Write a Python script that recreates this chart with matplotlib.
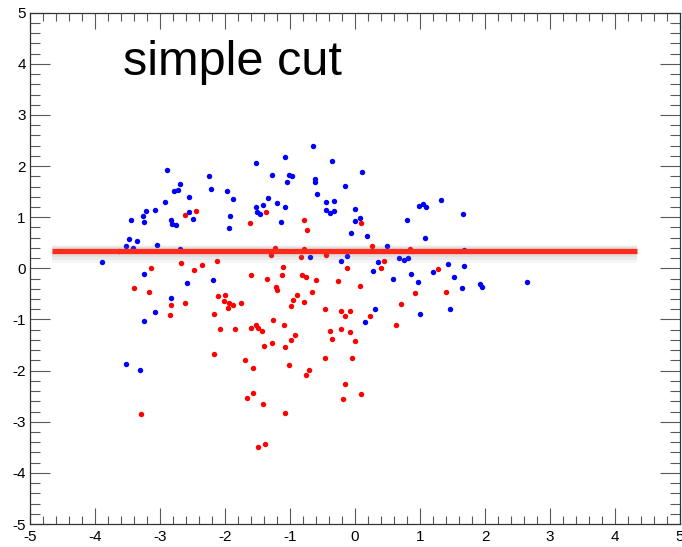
import matplotlib
matplotlib.use("Agg")
import matplotlib.pyplot as plt
import matplotlib.transforms as mtransforms
from matplotlib.ticker import MultipleLocator, AutoMinorLocator

plt.rcParams['font.family'] = ['Liberation Sans', 'DejaVu Sans']
plt.rcParams['axes.unicode_minus'] = False

# blue sample (signal-like)
blue_x = [-2.89, -2.24, -2.70, -2.78, -2.73, -2.22, -1.97, -2.55, -2.92, -3.08,
          -3.22, -3.26, -3.45, -3.24, -2.55, -2.49, -2.83, -2.82, -2.75, -1.93,
          -1.94, -3.48, -3.36, -3.53, -3.41, -3.05, -2.69, -0.64, -1.08, -0.35,
          -1.52, -1.27, -1.02, -0.97, 0.11, -1.04, -0.62, -0.62, -0.15, -0.59,
          -1.87, -1.34, -1.20, -1.42, -0.44, -0.33, -1.52, -1.07, -1.51, -1.46,
          -0.45, -0.33, -0.38, 0.00, -1.14, 0.08, 0.00, -0.06, 0.18, 1.32,
          0.99, 1.05, 1.09, 1.66, 0.80, 1.07, 0.49, 1.67, 0.36, 0.67,
          0.76, 0.82, 1.43, 1.67, 0.28, 1.20, 0.86, 0.59, 1.52, 0.97,
          1.92, 1.96, 2.65, 1.64, -3.90, -3.25, -2.58, -2.19, -2.83, -3.07,
          -3.24, -0.70, -0.12, -0.22, 0.16, 0.31, 1.00, 1.46, -3.52, -3.31]
blue_y = [1.93, 1.81, 1.65, 1.51, 1.53, 1.56, 1.51, 1.39, 1.30, 1.15,
          1.13, 1.02, 0.94, 0.90, 1.11, 0.96, 0.95, 0.86, 0.84, 1.02,
          0.79, 0.58, 0.53, 0.44, 0.40, 0.46, 0.38, 2.39, 2.18, 2.10,
          2.07, 1.82, 1.82, 1.81, 1.88, 1.69, 1.74, 1.68, 1.62, 1.45,
          1.35, 1.37, 1.28, 1.24, 1.30, 1.32, 1.20, 1.20, 1.11, 1.07,
          1.15, 1.13, 1.08, 1.16, 0.90, 0.98, 0.93, 0.70, 0.63, 1.34,
          1.21, 1.25, 1.20, 1.06, 0.94, 0.59, 0.44, 0.36, 0.13, 0.21,
          0.17, 0.20, 0.08, 0.04, -0.05, -0.08, -0.11, -0.21, -0.16, -0.26,
          -0.31, -0.36, -0.26, -0.39, 0.12, -0.11, -0.29, -0.23, -0.58, -0.85,
          -1.02, 0.23, 0.24, 0.14, -1.04, -0.79, -0.90, -0.80, -1.87, -1.98]

# red sample (background-like)
red_x = [-2.61, -2.45, -1.37, -1.62, -0.79, 0.09, -0.74, -1.23, -0.78, 0.26,
         0.85, 0.45, 0.40, 1.28, 0.08, -3.14, -2.67, -2.47, -2.35, -2.13,
         -3.40, -3.17, -2.83, -2.61, -2.84, -2.11, -2.00, -2.02, -1.94, -1.95,
         -2.17, -2.07, -1.88, -1.30, -0.83, -0.44, -0.13, -1.11, -1.60, -1.35,
         -1.13, -0.82, -0.76, -0.60, -0.26, -1.21, -1.20, -0.66, -0.90, -1.75,
         -0.96, -0.78, -0.99, -0.46, -0.21, -0.08, -0.16, 0.23, -1.26, -1.84,
         -1.60, -1.52, -1.49, -1.43, -1.09, -0.38, -0.22, -0.08, -0.92, -0.99,
         -0.36, 0.00, -1.28, -1.40, -1.08, 0.92, 1.40, 0.71, 0.63, -2.17,
         -3.30, -1.69, -1.57, -1.02, -0.71, -0.75, -0.46, -0.04, -0.15, 0.09,
         -0.19, -1.57, -1.66, -1.42, -1.08, -1.38, -1.49, -3.63]
red_y = [1.05, 1.13, 1.10, 0.88, 0.95, 0.88, 0.75, 0.40, 0.37, 0.44,
         0.38, 0.14, 0.00, -0.01, -0.35, 0.01, 0.11, -0.03, 0.06, 0.15,
         -0.39, -0.47, -0.72, -0.67, -0.91, -0.55, -0.52, -0.64, -0.67, -0.78,
         -0.89, -1.19, -0.72, 0.26, 0.22, 0.26, 0.01, 0.03, -0.13, -0.20,
         -0.13, -0.13, -0.16, -0.23, -0.25, -0.37, -0.43, -0.46, -0.52, -0.67,
         -0.62, -0.65, -0.74, -0.79, -0.83, -0.83, -0.93, -0.94, -1.01, -1.19,
         -1.16, -1.10, -1.17, -1.23, -1.10, -1.23, -1.19, -1.24, -1.30, -1.40,
         -1.39, -1.42, -1.46, -1.51, -1.53, -0.48, -0.47, -0.70, -1.10, -1.68,
         -2.84, -1.79, -1.94, -1.90, -1.99, -2.08, -1.75, -1.75, -2.26, -2.45,
         -2.55, -2.43, -2.54, -2.65, -2.82, -3.44, -3.49, 0.33]

# horizontal cut
cut_value = 0.33
cut_xmin, cut_xmax = -4.66, 4.34

fig = plt.figure(figsize=(6.82, 5.47), dpi=100)
ax = fig.add_axes([30 / 682, 23 / 547, 650 / 682, 511.3 / 547])

ax.plot(blue_x, blue_y, 'o', color='#0000ff', markersize=3.9, markeredgewidth=0, zorder=3)
ax.plot(red_x, red_y, 'o', color='#ff0000', markersize=3.9, markeredgewidth=0, zorder=3)

# soft grey shadow under the cut line
for dy, lw, a in [(-3, 13, 0.07), (-2, 10, 0.09), (-1, 7, 0.11)]:
    tr = mtransforms.offset_copy(ax.transData, fig=fig, y=dy, units='dots')
    ax.plot([cut_xmin, cut_xmax], [cut_value, cut_value], color='gray',
            linewidth=lw, alpha=a, solid_capstyle='butt', transform=tr, zorder=4)
ax.plot([cut_xmin, cut_xmax], [cut_value, cut_value], color='#ff2a1a',
        linewidth=3.8, solid_capstyle='butt', zorder=5)

ax.text(-3.57, 3.78, 'simple cut', fontsize=35, va='baseline', ha='left')

ax.set_xlim(-5, 5)
ax.set_ylim(-5, 5)
ax.xaxis.set_major_locator(MultipleLocator(1))
ax.yaxis.set_major_locator(MultipleLocator(1))
ax.xaxis.set_minor_locator(AutoMinorLocator(5))
ax.yaxis.set_minor_locator(AutoMinorLocator(5))
ax.tick_params(axis='both', which='both', direction='in', top=True, right=True,
               color='0.35', width=0.8, labelsize=11)
ax.tick_params(axis='x', which='major', length=11.3, pad=4)
ax.tick_params(axis='x', which='minor', length=5.6)
ax.tick_params(axis='y', which='major', length=14.4, pad=3)
ax.tick_params(axis='y', which='minor', length=7.2)
for s in ax.spines.values():
    s.set_linewidth(0.9)
    s.set_color('0.2')

fig.savefig('out.png', dpi=100)
